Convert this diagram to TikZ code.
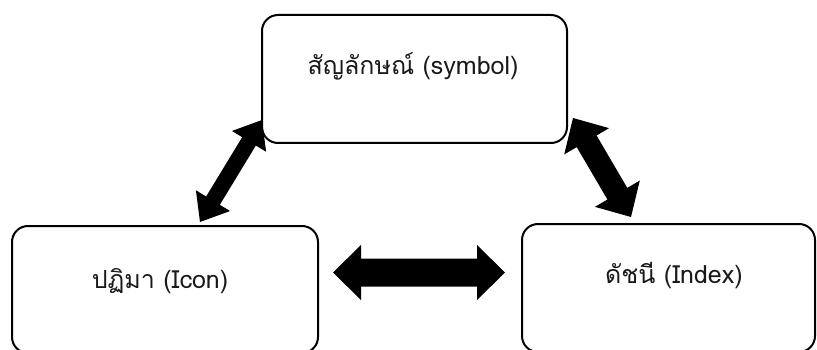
\documentclass[tikz,border=0pt]{standalone}
\usepackage{fontspec}
\newfontfamily\thaifont[Script=Thai]{Loma}
\usetikzlibrary{calc}
\newcommand\blockdblarrow[5]{% A, B, shaft half, head half, head length
  \fill[black]
    (#1) -- ($($(#1)!#5!(#2)$)!#4!90:(#2)$)
    -- ($($(#1)!#5!(#2)$)!#3!90:(#2)$)
    -- ($($(#2)!#5!(#1)$)!#3!-90:(#1)$)
    -- ($($(#2)!#5!(#1)$)!#4!-90:(#1)$)
    -- (#2)
    -- ($($(#2)!#5!(#1)$)!#4!90:(#1)$)
    -- ($($(#2)!#5!(#1)$)!#3!90:(#1)$)
    -- ($($(#1)!#5!(#2)$)!#3!-90:(#2)$)
    -- ($($(#1)!#5!(#2)$)!#4!-90:(#2)$)
    -- cycle;}
\begin{document}
\begin{tikzpicture}[x=1pt,y=-1pt,
  box/.style={draw=black, line width=2pt, rounded corners=16pt, fill=white, inner sep=0pt},
  lbl/.style={font=\thaifont\fontsize{25}{30}\selectfont, text=black!90, inner sep=0pt}]
\useasboundingbox (0,0) rectangle (817,350);
\begin{scope}
\clip (0,0) rectangle (817,350);
\node[box, minimum width=305pt, minimum height=128pt] (sym) at (414.5,79) {};
\node[box, minimum width=306pt, minimum height=127pt] (ico) at (165,289.5) {};
\node[box, minimum width=293pt, minimum height=128pt] (idx) at (668.5,288) {};
\end{scope}
\node[lbl] (tsym) at (413,66) {สัญลักษณ์ (symbol)};
\node[lbl] (tico) at (160,281) {ปฏิมา (Icon)};
\node[lbl] (tidx) at (674,276) {ดัชนี (Index)};
% arrow end points
\coordinate (l1) at (262,120);
\coordinate (l2) at (200,222);
\coordinate (r1) at (573,118);
\coordinate (r2) at (631,217);
\coordinate (m1) at (333,272.5);
\coordinate (m2) at (505,272.5);
\blockdblarrow{l1}{l2}{8pt}{20pt}{25pt}
\blockdblarrow{r1}{r2}{11.5pt}{26pt}{27pt}
\blockdblarrow{m1}{m2}{14pt}{27.5pt}{28pt}
\end{tikzpicture}
\end{document}
